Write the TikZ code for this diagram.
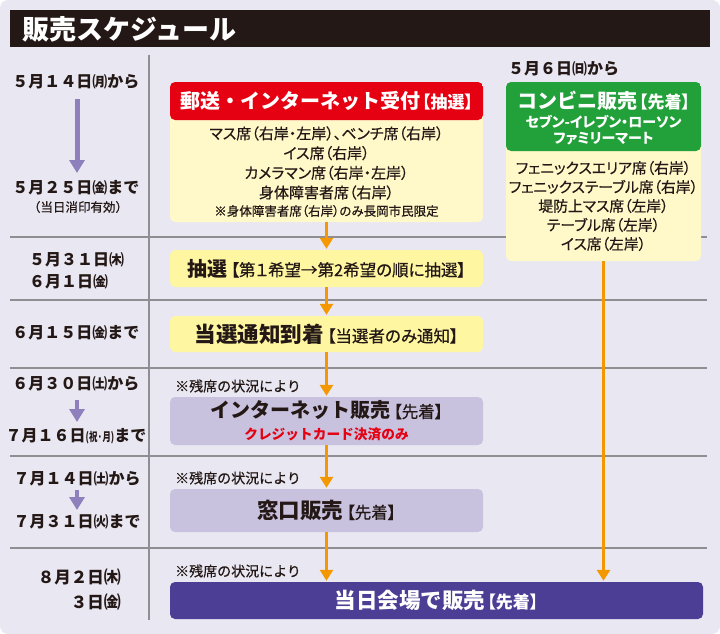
\documentclass[tikz,border=0pt]{standalone}
\usepackage{graphicx}
\usepackage{fontspec}
\setmainfont{Noto Sans CJK JP}
\newfontfamily\pfont{Noto Sans CJK JP}[RawFeature=+palt]
\newfontfamily\medfont{Noto Sans CJK JP}[RawFeature=+palt, FakeBold=0.5]
\newfontfamily\mednp{Noto Sans CJK JP}[FakeBold=0.5]
\usetikzlibrary{arrows.meta}

\definecolor{bgcol}{HTML}{E9E7F2}
\definecolor{inkcol}{HTML}{231815}
\definecolor{rulecol}{HTML}{8E8E93}
\definecolor{lilac}{HTML}{8E80BD}
\definecolor{orangecol}{HTML}{F39800}
\definecolor{postred}{HTML}{E50012}
\definecolor{cvsgreen}{HTML}{22A03A}
\definecolor{creamcol}{HTML}{FFF8C9}
\definecolor{yelcol}{HTML}{FFF6A2}
\definecolor{lavcol}{HTML}{C9C2DF}
\definecolor{navycol}{HTML}{4B3E94}

\newcommand{\fs}[1]{\fontsize{#1}{#1}\selectfont}
\newcommand{\sfx}[1]{{\fs{16}#1}}
\newcommand{\wday}[1]{{\fs{15}#1}}
\newcommand{\brk}[1]{\kern2pt{\pfont\fs{17}#1}}
\newcommand{\brkm}[1]{\kern3.5pt{\medfont\mdseries\fs{16.5}#1}}

\tikzset{
  datelbl/.style={font=\bfseries\fs{16}},
  notetxt/.style={font=\mednp\fs{14}, anchor=west},
  bodytxt/.style={font=\medfont\fontsize{15}{19.7}\selectfont, align=center},
  flowbox/.style={rounded corners=5pt, minimum width=313pt},
  boxhead/.style={font=\bfseries\fs{20}},
  bighead/.style={font=\bfseries\fs{21.5}},
  sep/.style={rulecol, line width=1.2pt},
  flow/.style={orangecol, line width=3pt, shorten >=1pt, -{Triangle[width=13pt,length=11pt]}},
  period/.style={lilac, line width=5pt, -{Triangle[width=15pt,length=13pt]}}
}

\begin{document}
\begin{tikzpicture}[x=1pt,y=-1pt, every node/.style={text=inkcol, inner sep=0pt}]
  \useasboundingbox (0,0) rectangle (720,634);
  \fill[white] (0,0) rectangle (720,634);
  \fill[bgcol, rounded corners=8pt] (0,0) rectangle (720,634);
  % title bar
  \fill[inkcol] (10,10) rectangle (710,47);
  \node[anchor=west, text=white, font=\bfseries\fs{27}] (title) at (22,29) {販売スケジュール};

  % rules
  \draw[sep] (149,55) -- (149,620);
  \foreach \yy in {237,300,368,456,548}
    \draw[sep] (10,\yy) -- (707,\yy);

  % dates
  \node[datelbl] (d1) at (76,82) {５月１４日\wday{㈪}\sfx{から}};
  \node[datelbl] (d2) at (76,188) {５月２５日\wday{㈮}\sfx{まで}};
  \node[font=\mednp\fs{12.5}] (d2n) at (78,207) {（当日消印有効）};
  \draw[period] ([xshift=1pt,yshift=-17pt]d1.center) -- ([xshift=1pt,yshift=15pt]d2.center);
  \node[font=\bfseries\fontsize{16}{22}\selectfont, align=left, anchor=west] (d3) at (29,271) {５月３１日\wday{㈭}\\６月１日\wday{㈮}};
  \node[datelbl] (d4) at (76,333) {６月１５日\wday{㈮}\sfx{まで}};
  \node[datelbl] (d5) at (76,384) {６月３０日\wday{㈯}\sfx{から}};
  \node[datelbl] (d6) at (76,436) {７月１６日\scalebox{0.7}[1]{\fs{12}(祝·月)}\sfx{まで}};
  \draw[period, line width=4pt] ([xshift=1pt,yshift=-16pt]d5.center) -- ([xshift=1pt,yshift=14pt]d6.center);
  \node[datelbl] (d7) at (77,479) {７月１４日\wday{㈯}\sfx{から}};
  \node[datelbl] (d8) at (77,522) {７月３１日\wday{㈫}\sfx{まで}};
  \draw[period, line width=4pt] ([yshift=-11pt]d7.center) -- ([yshift=12pt]d8.center);
  \node[font=\bfseries\fontsize{16.5}{25}\selectfont, align=right, anchor=east] (d9) at (121,590) {８月２日{\fs{17}㈭}\\３日{\fs{17}㈮}};

  % mail / internet lottery
  \node[flowbox, fill=creamcol, minimum height=140pt,
    path picture={\fill[postred] (path picture bounding box.north west) rectangle ([yshift=-38pt]path picture bounding box.north east);}] (post) at (326.5,152) {};
  \node[boxhead, text=white] (posthd) at (326.5,101) {郵送・インターネット受付\brk{【抽選】}};
  \node[bodytxt] (postbody) at (326.5,163) {マス席（右岸・左岸）、ベンチ席（右岸）\\イス席（右岸）\\カメラマン席（右岸・左岸）\\身体障害者席（右岸）};
  \node[font=\medfont\fs{12.5}] (postnote) at (326.5,211) {※身体障害者席（右岸）のみ長岡市民限定};

  % convenience stores
  \node[anchor=west, datelbl] (d0) at (508,69) {５月６日\wday{㈰}\sfx{から}};
  \node[rounded corners=5pt, fill=creamcol, minimum width=195pt, minimum height=179pt,
    path picture={\fill[cvsgreen] (path picture bounding box.north west) rectangle ([yshift=-69pt]path picture bounding box.north east);}] (cvs) at (603.5,171.5) {};
  \node[boxhead, text=white] (cvshd) at (603.5,101) {コンビニ販売\brk{【先着】}};
  \node[font=\bfseries\pfont\fontsize{14}{16}\selectfont, text=white, align=center] (cvsshops) at (603.5,130) {セブン-イレブン・ローソン\\ファミリーマート};
  \node[bodytxt, font=\medfont\fontsize{14.8}{19}\selectfont] (cvsbody) at (603.5,206) {フェニックスエリア席（右岸）\\フェニックステーブル席（右岸）\\堤防上マス席（左岸）\\テーブル席（左岸）\\イス席（左岸）};

  % flow
  \node[flowbox, fill=yelcol, minimum height=37pt, boxhead] (lottery) at (326.5,268.5) {抽選\brkm{【第１希望→第2希望の順に抽選】}};
  \node[flowbox, fill=yelcol, minimum height=36pt, bighead] (notice) at (326.5,334) {当選通知到着\brkm{【当選者のみ通知】}};
  \node[notetxt] (note1) at (175,386) {※残席の状況により};
  \node[flowbox, fill=lavcol, minimum height=48pt, font=\bfseries\fontsize{20}{22}\selectfont, align=center] (netsale) at (326.5,421) {インターネット販売\brkm{【先着】}\\{\fs{13.7}\color{postred}クレジットカード決済のみ}};
  \node[notetxt] (note2) at (175,478) {※残席の状況により};
  \node[flowbox, fill=lavcol, minimum height=43pt, bighead] (window) at (326.5,510.5) {窓口販売\brkm{【先着】}};
  \node[notetxt] (note3) at (175,571) {※残席の状況により};
  \node[rounded corners=5pt, fill=navycol, minimum width=533pt, minimum height=37pt, bighead, text=white] (venue) at (436.5,600.5) {当日会場で販売\brk{【先着】}};

  \draw[flow] (post.south) -- (lottery.north);
  \draw[flow] (lottery.south) -- (notice.north);
  \draw[flow] (notice.south) -- (netsale.north);
  \draw[flow] (netsale.south) -- (window.north);
  \draw[flow] (window.south) -- (window.south |- venue.north);
  \draw[flow] (cvs.south) -- (cvs.south |- venue.north);
\end{tikzpicture}
\end{document}
